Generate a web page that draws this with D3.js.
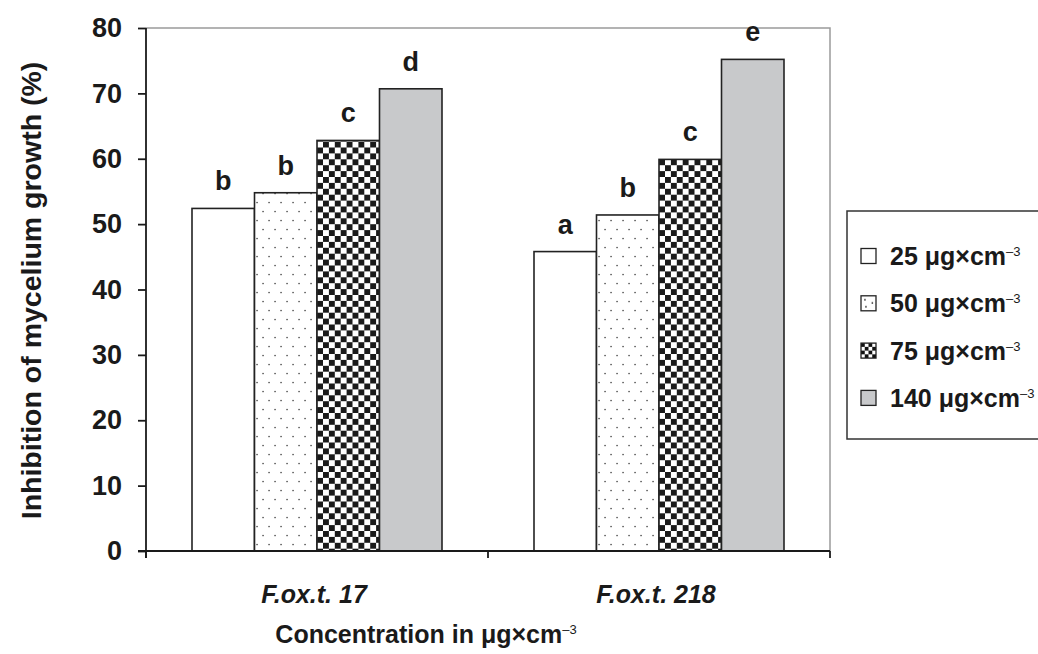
<!DOCTYPE html>
<html>
<head>
<meta charset="utf-8">
<script src="https://cdn.jsdelivr.net/npm/d3@7"></script>
<style>
  html, body { margin: 0; padding: 0; background: #fff; }
  svg { display: block; font-family: "Liberation Sans", Arial, sans-serif; }
</style>
</head>
<body>
<svg id="chart" width="1038" height="654"></svg>
<script>
// Isolates on the x axis
const isolates = ["F.ox.t. 17", "F.ox.t. 218"];
// Concentrations (μg×cm⁻³), one bar per concentration within each isolate
const concentrations = ["25", "50", "75", "140"];
// Inhibition of mycelium growth (%) per isolate, ordered as concentrations
const inhibition17 = [52.4, 54.8, 62.8, 70.7];
const inhibition218 = [45.8, 51.4, 59.9, 75.2];
// Significance letters above each bar
const letters17 = ["b", "b", "c", "d"];
const letters218 = ["a", "b", "c", "e"];
// Y axis ticks
const yTicks = [0, 10, 20, 30, 40, 50, 60, 70, 80];

const seriesValues = [inhibition17, inhibition218];
const seriesLetters = [letters17, letters218];

const svg = d3.select("#chart");
const margin = { left: 146, top: 28, right: 830, bottom: 551 };
const ink = "#1a1a1a";

const x0 = d3.scaleBand().domain(isolates).range([margin.left, margin.right]).padding(0);
const x1 = d3.scaleBand().domain(concentrations).range([46, x0.bandwidth() - 46]).padding(0);
const y = d3.scaleLinear().domain([0, 80]).range([margin.bottom, margin.top]);

// Fill patterns
const defs = svg.append("defs");
const dots = defs.append("pattern").attr("id", "dots")
  .attr("patternUnits", "userSpaceOnUse").attr("width", 12).attr("height", 18);
dots.append("rect").attr("width", 12).attr("height", 18).attr("fill", "#fff");
dots.append("rect").attr("x", 2.4).attr("y", 3.9).attr("width", 1.3).attr("height", 1.3).attr("fill", "#333");
dots.append("rect").attr("x", 8.4).attr("y", 12.9).attr("width", 1.3).attr("height", 1.3).attr("fill", "#333");

const checks = defs.append("pattern").attr("id", "checks")
  .attr("patternUnits", "userSpaceOnUse").attr("width", 11.8).attr("height", 11.8);
checks.append("rect").attr("width", 11.8).attr("height", 11.8).attr("fill", "#fff");
checks.append("rect").attr("width", 5.9).attr("height", 5.9).attr("fill", "#1a1a1a");
checks.append("rect").attr("x", 5.9).attr("y", 5.9).attr("width", 5.9).attr("height", 5.9).attr("fill", "#1a1a1a");

const fills = { "25": "#fff", "50": "url(#dots)", "75": "url(#checks)", "140": "#c8c9cb" };
const swatchFills = { "25": "#fff", "50": "url(#dotsSmall)", "75": "url(#checksSmall)", "140": "#c8c9cb" };

// Smaller patterns for the legend swatches
const dotsSmall = defs.append("pattern").attr("id", "dotsSmall")
  .attr("patternUnits", "objectBoundingBox").attr("width", 1).attr("height", 1);
dotsSmall.append("rect").attr("width", 15).attr("height", 15).attr("fill", "#fff");
dotsSmall.append("rect").attr("x", 3.2).attr("y", 3.2).attr("width", 1.5).attr("height", 1.5).attr("fill", "#222");
dotsSmall.append("rect").attr("x", 4.2).attr("y", 10.2).attr("width", 1.5).attr("height", 1.5).attr("fill", "#222");
dotsSmall.append("rect").attr("x", 10.6).attr("y", 6.4).attr("width", 1.5).attr("height", 1.5).attr("fill", "#222");

const checksSmall = defs.append("pattern").attr("id", "checksSmall")
  .attr("patternUnits", "userSpaceOnUse").attr("width", 7.5).attr("height", 7.5);
checksSmall.append("rect").attr("width", 7.5).attr("height", 7.5).attr("fill", "#fff");
checksSmall.append("rect").attr("width", 3.75).attr("height", 3.75).attr("fill", "#111");
checksSmall.append("rect").attr("x", 3.75).attr("y", 3.75).attr("width", 3.75).attr("height", 3.75).attr("fill", "#111");

// Plot frame (top and right)
svg.append("path")
  .attr("d", `M${margin.left},${margin.top}H${margin.right}V${margin.bottom}`)
  .attr("fill", "none").attr("stroke", "#9a9a9a").attr("stroke-width", 1.5);

// Bars
const groups = svg.append("g").selectAll("g")
  .data(isolates).join("g")
  .attr("transform", d => `translate(${x0(d)},0)`);

groups.selectAll("rect")
  .data((d, i) => concentrations.map((c, j) => ({ c, v: seriesValues[i][j] })))
  .join("rect")
  .attr("x", d => x1(d.c))
  .attr("y", d => y(d.v))
  .attr("width", x1.bandwidth())
  .attr("height", d => y(0) - y(d.v))
  .attr("fill", d => fills[d.c])
  .attr("stroke", "#222")
  .attr("stroke-width", 1.6);

groups.selectAll("text")
  .data((d, i) => concentrations.map((c, j) => ({ c, v: seriesValues[i][j], t: seriesLetters[i][j] })))
  .join("text")
  .attr("x", d => x1(d.c) + x1.bandwidth() / 2)
  .attr("y", d => y(d.v) - 18)
  .attr("text-anchor", "middle")
  .attr("font-weight", "bold")
  .attr("font-size", 27)
  .attr("fill", ink)
  .text(d => d.t);

// Y axis
const yAxis = svg.append("g")
  .attr("transform", `translate(${margin.left},0)`)
  .call(d3.axisLeft(y).tickValues(yTicks).tickSize(8).tickPadding(16).tickSizeOuter(0));
yAxis.select(".domain").attr("stroke", ink).attr("stroke-width", 1.8)
  .attr("d", `M0,${margin.top}V${margin.bottom + 7}`);
yAxis.selectAll(".tick line").attr("stroke", ink).attr("stroke-width", 1.8);
yAxis.selectAll(".tick text")
  .attr("font-size", 27).attr("font-weight", "bold").attr("fill", ink)
  .attr("font-family", "'Liberation Sans', Arial, sans-serif");

// X axis with ticks at the band boundaries
const xAxis = svg.append("g").attr("transform", `translate(0,${margin.bottom})`);
xAxis.append("line")
  .attr("x1", margin.left - 8).attr("x2", margin.right)
  .attr("stroke", ink).attr("stroke-width", 1.8);
const boundaries = isolates.map(d => x0(d)).concat([x0(isolates[isolates.length - 1]) + x0.bandwidth()]);
xAxis.selectAll("line.tick").data(boundaries).join("line")
  .attr("class", "tick")
  .attr("x1", d => d).attr("x2", d => d).attr("y1", 0).attr("y2", 7)
  .attr("stroke", ink).attr("stroke-width", 1.8);
xAxis.selectAll("text").data(isolates).join("text")
  .attr("x", d => x0(d) + x0.bandwidth() / 2 - 3)
  .attr("y", 52)
  .attr("text-anchor", "middle")
  .attr("font-size", 25).attr("font-weight", "bold").attr("font-style", "italic")
  .attr("fill", ink)
  .text(d => d);

// Axis titles
svg.append("text")
  .attr("transform", `translate(41,${(margin.top + margin.bottom) / 2 + 1}) rotate(-90)`)
  .attr("text-anchor", "middle")
  .attr("font-size", 28.5).attr("font-weight", "bold").attr("fill", ink)
  .text("Inhibition of mycelium growth (%)");

const xTitle = svg.append("text")
  .attr("x", 426).attr("y", 643)
  .attr("text-anchor", "middle")
  .attr("font-size", 25).attr("font-weight", "bold").attr("fill", ink);
xTitle.append("tspan").text("Concentration in μg×cm");
xTitle.append("tspan").attr("font-size", 13).attr("font-weight", "normal")
  .attr("dy", -9).text("–3");

// Legend
const legend = svg.append("g");
legend.append("rect")
  .attr("x", 847).attr("y", 211).attr("width", 200).attr("height", 228)
  .attr("fill", "#fff").attr("stroke", "#333").attr("stroke-width", 1.5);

const legendRows = legend.selectAll("g.row").data(concentrations).join("g")
  .attr("class", "row")
  .attr("transform", (d, i) => `translate(861,${256 + i * 47.3})`);
legendRows.append("rect")
  .attr("x", 0).attr("y", -7.5).attr("width", 15).attr("height", 15)
  .attr("fill", d => swatchFills[d])
  .attr("stroke", "#222").attr("stroke-width", 1.3);
const legendText = legendRows.append("text")
  .attr("x", 29).attr("y", 9)
  .attr("font-size", 25).attr("font-weight", "bold").attr("fill", ink);
legendText.append("tspan").text(d => `${d} μg×cm`);
legendText.append("tspan").attr("font-size", 13).attr("font-weight", "normal")
  .attr("dy", -9).text("–3");
</script>
</body>
</html>
